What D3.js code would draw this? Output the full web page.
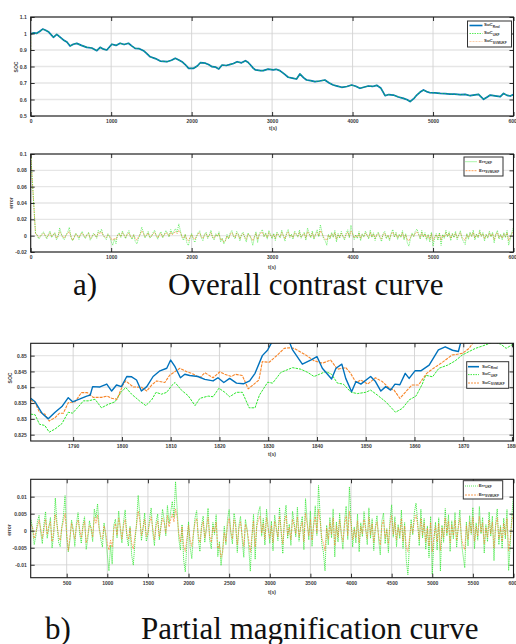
<!DOCTYPE html>
<html>
<head>
<meta charset="utf-8">
<script src="https://cdn.jsdelivr.net/npm/d3@7"></script>
<style>
  body { margin: 0; background: #fff; }
  svg { display: block; }
</style>
</head>
<body>
<script>
// ---- data ----

// a) overall SOC (real); the estimators sit on top of it, starting from 0.9
const socTime = [0, 40, 75, 110, 149, 185, 219, 250, 282, 324, 365, 406, 450, 489, 530, 573, 630, 697, 760, 822,
  863, 905, 946, 1008, 1060, 1111, 1160, 1215, 1255, 1298, 1350, 1402, 1440, 1485, 1550, 1610, 1693, 1750, 1797, 1840,
  1880, 1920, 1963, 2025, 2070, 2108, 2171, 2210, 2254, 2300, 2337, 2378, 2430, 2482, 2520, 2565, 2620, 2669, 2700, 2732,
  2765, 2794, 2856, 2889, 2950, 3013, 3050, 3096, 3150, 3200, 3250, 3304, 3345, 3390, 3428, 3480, 3532, 3590, 3656, 3710,
  3760, 3810, 3864, 3930, 3989, 4040, 4092, 4150, 4196, 4250, 4300, 4350, 4404, 4450, 4507, 4570, 4632, 4680, 4715, 4760,
  4798, 4840, 4881, 4920, 4964, 5030, 5088, 5150, 5213, 5270, 5337, 5400, 5462, 5520, 5566, 5600, 5628, 5670, 5711, 5770,
  5836, 5877, 5920, 5960, 6000];
const socReal = [0.998, 1.004, 1.001, 1.012, 1.027, 1.020, 1.011, 0.995, 0.977, 0.995, 0.978, 0.961, 0.948, 0.924, 0.935, 0.940, 0.928, 0.916, 0.912, 0.896,
  0.916, 0.905, 0.900, 0.935, 0.928, 0.941, 0.933, 0.941, 0.925, 0.910, 0.908, 0.896, 0.880, 0.859, 0.848, 0.833, 0.829, 0.838, 0.850, 0.840,
  0.829, 0.812, 0.789, 0.789, 0.803, 0.823, 0.820, 0.812, 0.799, 0.796, 0.785, 0.809, 0.806, 0.813, 0.818, 0.829, 0.822, 0.835, 0.826, 0.809,
  0.790, 0.779, 0.775, 0.775, 0.784, 0.780, 0.783, 0.775, 0.755, 0.735, 0.730, 0.724, 0.755, 0.733, 0.718, 0.714, 0.708, 0.712, 0.718, 0.700,
  0.688, 0.681, 0.674, 0.679, 0.688, 0.680, 0.668, 0.676, 0.682, 0.679, 0.686, 0.670, 0.623, 0.630, 0.627, 0.615, 0.607, 0.598, 0.587, 0.605,
  0.627, 0.645, 0.658, 0.648, 0.641, 0.640, 0.637, 0.636, 0.633, 0.632, 0.629, 0.631, 0.623, 0.628, 0.631, 0.615, 0.601, 0.614, 0.627, 0.622,
  0.617, 0.637, 0.625, 0.621, 0.631];
const socStart = 0.9;   // initial guess of both filters
const errStart = 0.1;

// errors, sampled every 20 s from 60 s to 6000 s, in units of 1e-3
const errTime = d3.range(60, 6001, 20);
const errUkfMilli = [
  3.2, 0.8, -4.1, -1.6, 2.7, 4.5, -0.4, -3.8, 1.9, 5.6,
  -2.2, 0.7, 3.9, -5.1, -1.3, 9.6, 2.4, -3.3, -4.7, 1.2,
  4.4, 10.3, -1.9, -6.2, -2.8, 3.1, 0.5, -4.6, 2.2, 5.3,
  -0.9, -3.7, 1.8, 4.1, -5.5, -2.4, 2.9, 0.6, -3.2, 6.4,
  3.7, 7.9, 1.1, -2.6, -4.8, 2.3, -1.4, -6.9, -11.8, -4.2,
  -9.8, 1.6, 3.4, -2.1, 5.8, 0.4, -3.6, 2.7, 6.1, -1.8,
  -4.5, 1.3, -7.2, -10.1, -3.4, 2.2, 10.4, 4.6, -2.9, 0.8,
  5.2, -3.1, -1.2, 3.6, 6.7, -0.6, -4.4, 2.5, 4.9, -2.7,
  1.4, 6.3, 3.2, -1.5, 7.4, 2.1, 5.5, 8.6, 3.9, 14.4,
  6.2, -2.4, -5.7, 1.8, -8.6, -12.1, -3.5, 2.6, -4.9, -8.2,
  -1.3, 3.8, 5.9, -2.5, -6.1, 1.7, 4.3, -3.4, 0.9, 6.6,
  -2.8, -5.3, 2.4, -1.1, 4.7, -7.6, -3.2, -10.2, -5.6, 1.3,
  -4.1, 3.5, 6.2, -0.7, -3.9, 5.1, 2.3, -6.4, 1.6, 4.2,
  -2.6, -7.8, 3.3, 0.6, -4.5, -11.9, -2.2, 4.8, -8.4, 2.1,
  5.4, 7.1, -1.6, 3.6, -4.2, 6.3, 1.2, -3.7, 2.8, -5.9,
  4.6, 1.1, -2.9, 6.8, -0.5, -6.7, 3.4, 7.5, -2.3, 1.9,
  -4.3, 5.7, 2.4, -1.8, 6.9, -3.1, 1.5, 4.2, -5.6, 9.4,
  3.1, -2.7, 5.8, -4.6, 2.2, 7.3, -1.4, 13.3, 4.5, -3.8,
  -6.3, -11.8, 1.6, -4.2, 3.9, -2.1, 6.4, -7.7, 2.6, -3.3,
  5.1, -1.2, -5.4, 2.8, 7.2, -2.6, 12.9, 3.4, -4.8, 1.1,
  -3.6, 4.9, -6.2, 2.3, -1.7, 5.6, 0.8, -4.1, 6.7, -2.2,
  3.5, -5.8, 1.3, 4.4, -2.6, -7.1, 2.9, 5.2, -3.8, 0.6,
  -6.4, 3.2, 7.6, -1.9, 4.1, -4.7, 1.8, -2.3, 6.1, -5.2,
  2.4, -8.6, -12.9, -3.7, 3.3, -1.2, 5.4, 8.1, 2.7, -4.4,
  6.3, -2.1, 3.6, -5.5, 1.4, -7.9, 4.2, -12.8, -3.1, 2.5,
  -5.7, 3.8, -11.9, 1.6, -3.4, 6.5, -1.5, 4.7, -6.1, 2.9,
  -2.4, 5.3, -4.9, 1.2, 6.1, -3.6, -7.4, -10.9, 2.6, -4.5,
  4.4, -1.1, 6.8, -5.3, 2.3, -2.8, 7.1, -0.9, 3.9, -6.6,
  1.8, -3.2, 5.5, -1.6, 4.3, -8.8, 2.2, 6.4, -4.1, 1.5,
  -5.2, 3.7, -2.4, 6.2, -11.7, -3.9, 4.6, 10.2];
const errSvmMilli = [
  1.8, 0.9, -2.3, -0.4, 1.2, 3.1, 0.6, -2.2, 0.3, 3.4,
  -1.1, 1.5, 2.6, -3.2, -0.2, 4.8, 1.7, -1.4, -2.9, 0.8,
  2.7, 5.1, -0.6, -5.8, -1.9, 2.2, -0.3, -2.5, 1.4, 3.2,
  0.4, -2.1, 0.9, 2.8, -3.6, -1.2, 1.5, 1.1, -1.9, 3.9,
  2.2, 4.6, 0.3, -1.7, -2.4, 1.4, -0.6, -3.9, -5.7, -2.8,
  -4.9, 0.6, 2.1, -1.3, 3.7, 1.2, -2.4, 1.6, 3.3, -0.7,
  -2.6, 0.9, -3.8, -5.4, -1.5, 1.6, 5.8, 3.1, -1.4, 0.7,
  3.4, -1.7, -0.5, 2.2, 4.1, 0.6, -2.7, 1.3, 2.9, -1.8,
  0.9, 3.7, 2.4, -0.6, 4.5, 1.1, 3.3, 4.9, 2.6, 6.4,
  3.9, -0.8, -3.4, 1.2, -4.7, -6.1, -2.2, 1.6, -2.8, -4.6,
  -0.7, 2.4, 3.6, -1.3, -3.5, 0.8, 2.7, -2.1, 0.4, 3.9,
  -1.6, -3.4, 1.1, -0.4, 2.5, -5.2, -4.1, -7.8, -6.3, -0.6,
  -3.3, 1.8, 3.7, -0.2, -2.4, 3.2, 1.3, -4.1, 0.7, 2.6,
  -1.5, -4.6, 1.9, 0.2, -2.7, -6.3, -1.4, 2.9, -4.8, 1.2,
  3.2, 4.3, -0.7, 2.1, -2.5, 3.8, 0.6, -2.2, 1.6, -3.5,
  2.8, 0.5, -1.8, 4.2, 0.1, -3.9, 2.1, 4.5, -1.3, 1.0,
  -2.6, 3.4, 1.5, -0.9, 4.1, -1.8, 0.8, 2.6, -3.2, 5.1,
  1.9, -1.5, 3.4, -2.8, 1.3, 4.2, -0.6, 6.3, 2.6, -2.1,
  -3.7, -5.9, 0.8, -2.5, 2.3, -1.1, 3.8, -4.4, 1.5, -1.9,
  3.1, -0.6, -3.2, 1.6, 4.3, -1.4, 5.7, 2.1, -2.7, 0.5,
  -2.1, 2.9, -3.6, 1.3, -0.9, 3.3, 0.4, -2.3, 3.9, -1.2,
  2.1, -3.4, 0.7, 2.6, -1.5, -4.2, 1.7, 3.1, -2.2, 0.3,
  -3.8, 1.9, 4.4, -1.1, 2.4, -2.7, 1.0, -1.3, 3.6, -3.1,
  1.4, -4.9, -6.1, -2.2, 1.9, -0.6, 3.2, 4.6, 1.5, -2.6,
  3.7, -1.2, 2.1, -3.2, 0.8, -4.5, 2.5, -6.2, -1.8, 1.4,
  -3.3, 2.2, -5.8, 0.9, -2.0, 3.8, -0.8, 2.8, -3.6, 1.7,
  -1.4, 3.1, -2.9, 0.7, 3.6, -2.1, -4.3, -5.6, 1.5, -2.6,
  2.6, -0.6, 4.0, -3.1, 1.3, -1.6, 4.2, -0.5, 2.3, -3.9,
  1.0, -1.9, 3.2, -0.9, 2.5, -5.1, 1.3, 3.8, -2.4, 0.9,
  -3.1, 2.2, -1.4, 3.6, -5.9, -2.3, 2.7, 5.3];

// b) magnified SOC window, [t, soc]
const realZoom = [[1781.3,0.8365],[1782.2,0.8354],[1783.6,0.8318],[1784.9,0.8300],[1786.3,0.8321],[1787.7,0.8339],[1789.0,0.8367],
  [1789.9,0.8354],[1791.4,0.8363],[1792.8,0.8372],[1793.5,0.8375],[1794.0,0.8402],[1795.5,0.8401],[1796.9,0.8410],[1797.9,0.8388],
  [1798.9,0.8407],[1799.9,0.8402],[1801.0,0.8434],[1802.0,0.8433],[1803.0,0.8423],[1804.0,0.8388],[1805.1,0.8402],[1806.4,0.8434],
  [1807.8,0.8452],[1809.2,0.8460],[1810.0,0.8486],[1810.9,0.8465],[1812.0,0.8430],[1812.9,0.8441],[1813.9,0.8437],[1815.6,0.8434],
  [1817.0,0.8425],[1818.7,0.8420],[1819.7,0.8430],[1820.9,0.8415],[1822.1,0.8428],[1823.5,0.8413],[1824.9,0.8411],[1826.2,0.8420],
  [1827.3,0.8444],[1828.8,0.8500],[1829.9,0.8518],[1831.2,0.8555],[1834.0,0.8556],[1835.0,0.8518],[1837.0,0.8473],[1838.7,0.8486],
  [1840.0,0.8497],[1841.1,0.8460],[1843.0,0.8426],[1843.9,0.8460],[1845.1,0.8473],[1845.9,0.8428],[1847.1,0.8386],[1848.0,0.8418],
  [1849.0,0.8410],[1851.0,0.8434],[1852.0,0.8418],[1853.1,0.8388],[1854.1,0.8402],[1855.1,0.8391],[1856.0,0.8410],[1857.0,0.8408],
  [1858.1,0.8444],[1858.9,0.8428],[1860.1,0.8452],[1861.3,0.8452],[1863.0,0.8470],[1864.9,0.8518],[1866.3,0.8528],[1867.8,0.8517],
  [1869.0,0.8513],[1869.7,0.8555],[1875.0,0.8575],[1880.5,0.8580]];
const ukfZoom = [[1781.3,0.8315],[1782.2,0.8313],[1783.1,0.8283],[1784.2,0.8279],[1785.1,0.8258],[1786.3,0.8268],[1787.7,0.8285],
  [1789.0,0.8321],[1789.9,0.8318],[1791.4,0.8344],[1792.1,0.8357],[1793.1,0.8357],[1794.5,0.8362],[1795.8,0.8335],[1797.2,0.8346],
  [1798.6,0.8354],[1799.9,0.8386],[1800.8,0.8399],[1802.0,0.8378],[1803.6,0.8357],[1804.9,0.8342],[1806.1,0.8360],[1807.0,0.8384],
  [1808.1,0.8378],[1809.2,0.8384],[1810.2,0.8405],[1810.9,0.8415],[1812.2,0.8391],[1813.6,0.8373],[1815.0,0.8342],[1816.0,0.8365],
  [1817.7,0.8372],[1818.7,0.8370],[1819.9,0.8397],[1821.1,0.8384],[1822.1,0.8370],[1823.5,0.8384],[1824.7,0.8384],[1826.1,0.8335],
  [1827.3,0.8335],[1828.2,0.8375],[1829.9,0.8416],[1830.9,0.8413],[1832.6,0.8447],[1835.0,0.8462],[1836.7,0.8457],[1838.1,0.8447],
  [1839.4,0.8434],[1840.5,0.8441],[1841.8,0.8450],[1843.0,0.8441],[1844.2,0.8413],[1845.4,0.8410],[1847.0,0.8384],[1848.3,0.8380],
  [1850.0,0.8384],[1851.0,0.8391],[1852.4,0.8375],[1854.1,0.8354],[1856.1,0.8321],[1857.5,0.8333],[1858.9,0.8360],[1860.3,0.8372],
  [1861.6,0.8410],[1862.3,0.8438],[1863.7,0.8433],[1865.0,0.8460],[1866.8,0.8470],[1868.3,0.8483],[1869.8,0.8502],[1871.2,0.8513],
  [1872.5,0.8523],[1874.6,0.8534],[1876.3,0.8544],[1877.7,0.8536],[1878.8,0.8523],[1880.5,0.8539]];
const svmZoom = [[1781.3,0.8360],[1782.2,0.8351],[1783.1,0.8321],[1784.2,0.8315],[1785.1,0.8293],[1786.3,0.8304],[1787.2,0.8318],
  [1788.0,0.8318],[1789.0,0.8351],[1790.4,0.8354],[1791.7,0.8383],[1792.9,0.8383],[1794.1,0.8368],[1795.8,0.8368],[1797.0,0.8372],
  [1797.9,0.8365],[1799.0,0.8362],[1800.2,0.8407],[1800.8,0.8420],[1802.3,0.8401],[1804.0,0.8400],[1805.1,0.8388],[1806.1,0.8407],
  [1807.1,0.8420],[1808.8,0.8415],[1809.8,0.8438],[1811.9,0.8460],[1813.3,0.8449],[1814.6,0.8442],[1816.0,0.8430],[1817.0,0.8446],
  [1818.7,0.8430],[1820.1,0.8449],[1821.1,0.8441],[1822.5,0.8434],[1823.2,0.8441],[1824.7,0.8437],[1825.9,0.8395],[1827.1,0.8410],
  [1828.1,0.8423],[1828.8,0.8481],[1830.2,0.8479],[1831.9,0.8502],[1833.3,0.8523],[1834.3,0.8525],[1835.3,0.8523],[1837.7,0.8502],
  [1839.4,0.8484],[1841.1,0.8476],[1842.8,0.8486],[1844.2,0.8457],[1845.9,0.8462],[1846.9,0.8444],[1848.0,0.8415],[1849.0,0.8423],
  [1850.4,0.8410],[1852.0,0.8430],[1853.4,0.8418],[1854.8,0.8397],[1855.8,0.8391],[1857.0,0.8365],[1858.5,0.8391],[1859.5,0.8407],
  [1860.8,0.8407],[1862.5,0.8444],[1863.9,0.8460],[1865.9,0.8481],[1867.7,0.8502],[1869.8,0.8507],[1871.2,0.8523],[1872.5,0.8552],
  [1876.0,0.8565],[1880.5,0.8570]];

// ticks
const overallXTicks = [0, 1000, 2000, 3000, 4000, 5000, 6000];
const socYTicks = [0.5, 0.6, 0.7, 0.8, 0.9, 1, 1.1];
const errYTicks = [-0.02, 0, 0.02, 0.04, 0.06, 0.08, 0.1];
const zoomXTicks = [1790, 1800, 1810, 1820, 1830, 1840, 1850, 1860, 1870, 1880];
const zoomYTicks = [0.825, 0.83, 0.835, 0.84, 0.845, 0.85];
const errZoomXTicks = [500, 1000, 1500, 2000, 2500, 3000, 3500, 4000, 4500, 5000, 5500, 6000];
const errZoomYTicks = [-0.01, -0.005, 0, 0.005, 0.01];

// ---- drawing ----
const width = 516, height = 644;
const svg = d3.select('body').append('svg').attr('width', width).attr('height', height);

const BLUE = '#0072bd', GREEN = '#2ee62e', ORANGE = '#f7862a';
const FONT = '"Liberation Sans", Arial, sans-serif';
const num = d => String(+d.toFixed(4));

const overallReal = socTime.map((t, i) => [t, socReal[i]]);
const overallEst = [[0, socStart]].concat(overallReal);
const errUkf = errTime.map((t, i) => [t, errUkfMilli[i] / 1000]);
const errSvm = errTime.map((t, i) => [t, errSvmMilli[i] / 1000]);

let clipCount = 0;
function drawPanel(p) {
  const g = svg.append('g');
  const x = d3.scaleLinear().domain(p.xDomain).range([p.left, p.right]);
  const y = d3.scaleLinear().domain(p.yDomain).range([p.bottom, p.top]);

  // grid
  g.append('g').selectAll('line').data(p.yTicks).join('line')
    .attr('x1', p.left).attr('x2', p.right)
    .attr('y1', d => y(d)).attr('y2', d => y(d))
    .attr('stroke', '#e6e6e6').attr('stroke-width', 1.3);
  g.append('g').selectAll('line').data(p.xTicks).join('line')
    .attr('x1', d => x(d)).attr('x2', d => x(d))
    .attr('y1', p.top).attr('y2', p.bottom)
    .attr('stroke', '#d2d2d2').attr('stroke-width', 0.9);

  // series
  const id = 'clip' + (clipCount++);
  svg.append('clipPath').attr('id', id).append('rect')
    .attr('x', p.left).attr('y', p.top).attr('width', p.right - p.left).attr('height', p.bottom - p.top);
  const sg = g.append('g').attr('clip-path', `url(#${id})`);
  const line = d3.line().x(d => x(d[0])).y(d => y(d[1]));
  p.series.forEach(s => {
    sg.append('path').datum(s.data).attr('d', line)
      .attr('fill', 'none').attr('stroke', s.color).attr('stroke-width', s.lw)
      .attr('stroke-dasharray', s.dash || null).attr('stroke-opacity', s.op || 1)
      .attr('stroke-linejoin', 'round');
  });

  // box and inward ticks
  g.append('rect').attr('x', p.left).attr('y', p.top)
    .attr('width', p.right - p.left).attr('height', p.bottom - p.top)
    .attr('fill', 'none').attr('stroke', '#1a1a1a').attr('stroke-width', 1.1);

  const style = a => {
    a.select('.domain').remove();
    a.selectAll('.tick line').attr('stroke', '#1a1a1a').attr('stroke-width', 0.9);
    a.selectAll('text').attr('font-family', FONT).attr('font-size', 5)
      .attr('font-weight', 'bold').attr('fill', '#3a3a3a');
  };
  g.append('g').attr('transform', `translate(0,${p.bottom})`)
    .call(d3.axisBottom(x).tickValues(p.xTicks).tickSize(-4).tickPadding(3.5).tickFormat(num)).call(style);
  g.append('g').attr('transform', `translate(0,${p.top})`)
    .call(d3.axisTop(x).tickValues(p.xTicks).tickSize(-4).tickFormat('')).call(style);
  g.append('g').attr('transform', `translate(${p.left},0)`)
    .call(d3.axisLeft(y).tickValues(p.yTicks).tickSize(-4).tickPadding(4).tickFormat(num)).call(style);
  g.append('g').attr('transform', `translate(${p.right},0)`)
    .call(d3.axisRight(y).tickValues(p.yTicks).tickSize(-4).tickFormat('')).call(style);

  // axis labels
  g.append('text').attr('x', p.xLabelX).attr('y', p.xLabelY).attr('text-anchor', 'middle')
    .attr('font-family', FONT).attr('font-size', 5).attr('font-weight', 'bold').attr('fill', '#3a3a3a')
    .text('t(s)');
  g.append('text').attr('transform', `translate(${p.yLabelX},${p.yLabelY}) rotate(-90)`)
    .attr('text-anchor', 'middle')
    .attr('font-family', FONT).attr('font-size', 5).attr('font-weight', 'bold').attr('fill', '#3a3a3a')
    .text(p.yLabel);

  // legend
  const lg = p.legend;
  const l = svg.append('g');
  l.append('rect').attr('x', lg.x).attr('y', lg.y).attr('width', lg.w).attr('height', lg.h)
    .attr('fill', '#fff').attr('stroke', '#333').attr('stroke-width', 1);
  lg.items.forEach((it, i) => {
    const yy = lg.rows[i];
    l.append('line').attr('x1', lg.lx0).attr('x2', lg.lx1).attr('y1', yy).attr('y2', yy)
      .attr('stroke', it.color).attr('stroke-width', it.lw).attr('stroke-dasharray', it.dash || null)
      .attr('stroke-opacity', it.op || 1);
    const t = l.append('text').attr('x', lg.tx).attr('y', yy + 0.8)
      .attr('font-family', FONT).attr('font-size', 4.4).attr('font-weight', 'bold').attr('fill', '#333');
    t.append('tspan').text(it.main);
    t.append('tspan').attr('font-size', 3.3).attr('dy', 1.5).text(it.sub);
  });
}

// a) top: overall SOC
drawPanel({
  left: 30.7, right: 513.5, top: 17, bottom: 116,
  xDomain: [0, 6000], yDomain: [0.5, 1.1],
  xTicks: overallXTicks, yTicks: socYTicks,
  xLabelX: 273, xLabelY: 130, yLabel: 'SOC', yLabelX: 18, yLabelY: 67,
  series: [
    { data: overallEst, color: ORANGE, lw: 1.0, dash: '2,1.5', op: 0.6 },
    { data: overallReal, color: BLUE, lw: 1.7 },
    { data: overallEst, color: GREEN, lw: 1.1, dash: '1.5,1.5', op: 0.55 }
  ],
  legend: {
    x: 467.5, y: 21, w: 44, h: 26, lx0: 469.5, lx1: 482.5, tx: 484, rows: [25.5, 33.5, 41.5],
    items: [
      { main: 'SoC', sub: 'Real', color: BLUE, lw: 1.6 },
      { main: 'SoC', sub: 'UKF', color: GREEN, lw: 0.8, dash: '1.5,1' },
      { main: 'SoC', sub: 'SVMUKF', color: ORANGE, lw: 0.8, dash: '2,1', op: 0.5 }
    ]
  }
});

// a) bottom: overall error
drawPanel({
  left: 30.7, right: 513.5, top: 154, bottom: 252,
  xDomain: [0, 6000], yDomain: [-0.02, 0.1],
  xTicks: overallXTicks, yTicks: errYTicks,
  xLabelX: 272, xLabelY: 269, yLabel: 'error', yLabelX: 13, yLabelY: 203,
  series: [
    { data: [[0, errStart]].concat(errSvm), color: ORANGE, lw: 0.8, dash: '2,1', op: 0.85 },
    { data: [[0, errStart]].concat(errUkf), color: GREEN, lw: 0.7, dash: '1,1' }
  ],
  legend: {
    x: 464, y: 157, w: 39, h: 19, lx0: 465.5, lx1: 477.5, tx: 479, rows: [161.7, 170.7],
    items: [
      { main: 'Err', sub: 'UKF', color: GREEN, lw: 0.8, dash: '1,1' },
      { main: 'Err', sub: 'SVMUKF', color: ORANGE, lw: 0.8, dash: '2,1' }
    ]
  }
});

// b) top: magnified SOC
drawPanel({
  left: 30.7, right: 513.5, top: 343.3, bottom: 441,
  xDomain: [1781.3, 1880.3], yDomain: [0.823, 0.8539],
  xTicks: zoomXTicks, yTicks: zoomYTicks,
  xLabelX: 272, xLabelY: 456, yLabel: 'SOC', yLabelX: 12, yLabelY: 378,
  series: [
    { data: ukfZoom, color: GREEN, lw: 1.0, dash: '2.5,1' },
    { data: svmZoom, color: ORANGE, lw: 1.1, dash: '3,1' },
    { data: realZoom, color: BLUE, lw: 1.4 }
  ],
  legend: {
    x: 466.7, y: 361.7, w: 42, h: 26.6, lx0: 468, lx1: 479, tx: 482, rows: [366.7, 374.6, 383],
    items: [
      { main: 'SoC', sub: 'Real', color: BLUE, lw: 1.6 },
      { main: 'SoC', sub: 'UKF', color: GREEN, lw: 0.9, dash: '1.5,1' },
      { main: 'SoC', sub: 'SVMUKF', color: ORANGE, lw: 0.9, dash: '2,1' }
    ]
  }
});

// b) bottom: magnified error
drawPanel({
  left: 30.7, right: 513.5, top: 479.3, bottom: 577.7,
  xDomain: [57, 6000], yDomain: [-0.0138, 0.0151],
  xTicks: errZoomXTicks, yTicks: errZoomYTicks,
  xLabelX: 272, xLabelY: 594, yLabel: 'error', yLabelX: 11, yLabelY: 530,
  series: [
    { data: errUkf, color: GREEN, lw: 0.8, dash: '1.2,0.8' },
    { data: errSvm, color: ORANGE, lw: 0.8, dash: '2,1', op: 0.85 }
  ],
  legend: {
    x: 463.3, y: 480.7, w: 39.4, h: 18.3, lx0: 465, lx1: 477.7, tx: 478.7, rows: [486, 495],
    items: [
      { main: 'Err', sub: 'UKF', color: GREEN, lw: 0.8, dash: '1,1' },
      { main: 'Err', sub: 'SVMUKF', color: ORANGE, lw: 0.8, dash: '2,1' }
    ]
  }
});

// captions
const captions = [
  { tag: 'a)', text: 'Overall contrast curve', tagX: 73, textX: 168, y: 295 },
  { tag: 'b)', text: 'Partial magnification curve', tagX: 45, textX: 141, y: 639 }
];
captions.forEach(c => {
  svg.append('text').attr('x', c.tagX).attr('y', c.y)
    .attr('font-family', '"Liberation Serif", "Times New Roman", serif').attr('font-size', 31).attr('fill', '#111')
    .text(c.tag);
  svg.append('text').attr('x', c.textX).attr('y', c.y)
    .attr('font-family', '"Liberation Serif", "Times New Roman", serif').attr('font-size', 31).attr('fill', '#111')
    .text(c.text);
});
</script>
</body>
</html>
